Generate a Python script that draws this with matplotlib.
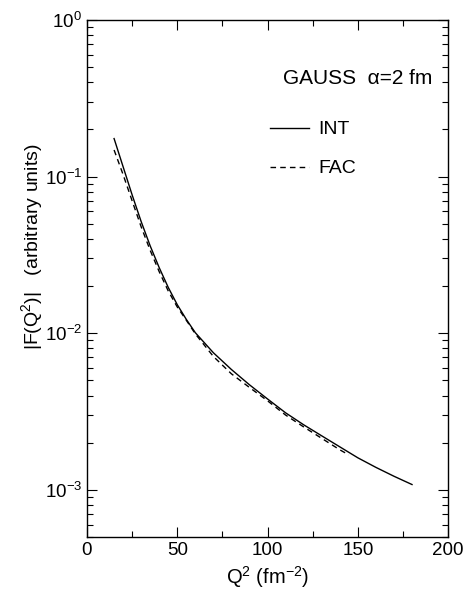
#!/usr/bin/env python3
"""Form factor |F(Q^2)| for a Gaussian source, INT vs FAC."""

import matplotlib
matplotlib.use("Agg")
import matplotlib.pyplot as plt
from matplotlib.ticker import MultipleLocator, LogLocator, NullFormatter

# Data
q2_int = [15, 20, 25, 30, 35, 40, 45, 50, 55, 60, 70, 80, 90, 100,
          110, 120, 130, 140, 150, 160, 170, 180]
f_int = [0.175, 0.1156, 0.0764, 0.0516, 0.0361, 0.0262, 0.0196, 0.0152,
         0.01225, 0.01007, 0.0075, 0.00586, 0.00468, 0.0038, 0.0031, 0.0026,
         0.00221, 0.00188, 0.0016, 0.00139, 0.00122, 0.00108]

q2_fac = [15, 20, 25, 30, 35, 40, 45, 50, 55, 60, 70, 80, 90, 100,
          110, 120, 130, 140, 145]
f_fac = [0.148, 0.103, 0.070, 0.0478, 0.0338, 0.0247, 0.0186, 0.0147, 0.0121,
         0.0099, 0.0071, 0.0055, 0.0045, 0.0037, 0.0030, 0.00252, 0.00213,
         0.00180, 0.00167]

plt.rcParams['font.family'] = ['Liberation Sans', 'DejaVu Sans']
plt.rcParams['mathtext.fontset'] = 'custom'
plt.rcParams['mathtext.rm'] = 'Liberation Sans'
plt.rcParams['mathtext.it'] = 'Liberation Sans'

fig = plt.figure(figsize=(4.69, 5.90), dpi=100)
ax = fig.add_axes([0.1855, 0.09, 0.77, 0.876])

ax.plot(q2_int, f_int, color='black', linewidth=1.0, label='INT')
ax.plot(q2_fac, f_fac, color='black', linewidth=1.0, linestyle=(0, (4, 3)),
        label='FAC')

ax.set_yscale('log')
ax.set_xlim(0, 200)
ax.set_ylim(5e-4, 1)

ax.xaxis.set_major_locator(MultipleLocator(50))
ax.xaxis.set_minor_locator(MultipleLocator(25))
ax.yaxis.set_major_locator(LogLocator(base=10, numticks=10))
ax.yaxis.set_minor_locator(LogLocator(base=10, subs=range(2, 10), numticks=20))
ax.yaxis.set_minor_formatter(NullFormatter())

ax.tick_params(which='both', direction='in', top=True, right=True,
               labelsize=13.5, width=0.8)
ax.tick_params(which='major', length=7)
ax.tick_params(which='minor', length=4)
for s in ax.spines.values():
    s.set_linewidth(1.0)

ax.set_xlabel('Q$^2$ (fm$^{-2}$)', fontsize=14.5)
ax.set_ylabel('|F(Q$^2$)|   (arbitrary units)', fontsize=14)
ax.yaxis.set_label_coords(-0.115, 0.561)

ax.text(0.955, 0.887, 'GAUSS  \u03b1=2 fm', transform=ax.transAxes,
        ha='right', va='center', fontsize=15)

ax.legend(loc='upper left', bbox_to_anchor=(0.506, 0.805), frameon=False,
          fontsize=14, handlelength=2.0, labelspacing=1.1, handletextpad=0.5,
          borderaxespad=0, borderpad=0)

plt.savefig('out.png', dpi=100)
